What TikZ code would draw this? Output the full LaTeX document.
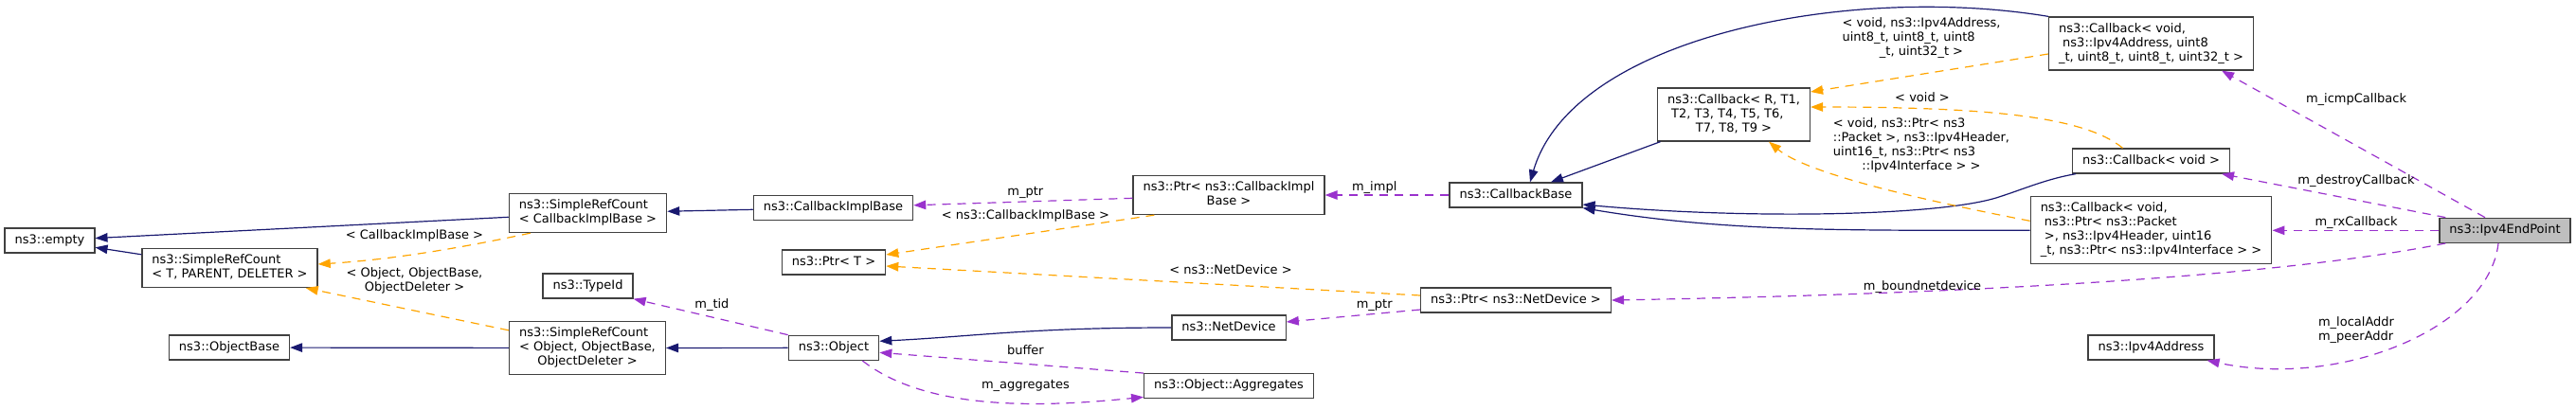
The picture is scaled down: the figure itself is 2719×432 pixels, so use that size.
\documentclass[tikz,border=0pt]{standalone}
\usepackage{fontspec}
\setmainfont{DejaVu Sans}
\usepackage{tikz}
\usetikzlibrary{arrows.meta}
\definecolor{inhblue}{RGB}{25,25,112}
\definecolor{usepurple}{RGB}{154,50,205}
\definecolor{tmplorange}{RGB}{255,165,0}
\definecolor{boxgray}{RGB}{64,64,64}
\definecolor{selgray}{RGB}{191,191,191}
\newcommand{\doxfont}{\fontsize{13}{15}\selectfont}
\newcommand{\doxrows}[1]{\begin{tabular}{@{}l@{}}#1\end{tabular}}
\newcommand{\doxcrows}[1]{\begin{tabular}{@{}c@{}}#1\end{tabular}}
\newcommand{\ctrline}[1]{\multicolumn{1}{@{}c@{}}{#1}}

\begin{document}
\begin{tikzpicture}[
  x=1pt, y=-1pt,
  cls/.style={rectangle, draw=boxgray, line width=1.3pt, fill=white,
              inner xsep=10.5pt, inner ysep=5.5pt, font=\doxfont},
  lbl/.style={inner sep=0pt, font=\doxfont},
  inh/.style={draw=inhblue, line width=1.2pt, -{Triangle[length=13pt, width=9.5pt]}},
  usage/.style={draw=usepurple, line width=1.2pt, dash pattern=on 9pt off 7pt,
                -{Triangle[length=13pt, width=9.5pt]}},
  tmpl/.style={draw=tmplorange, line width=1.2pt, dash pattern=on 9pt off 7pt,
               -{Triangle[length=13pt, width=9.5pt]}},
]
\useasboundingbox (0,0) rectangle (2719,432);

% Base classes
\node[cls] (empty) at (52.5,254) {\doxrows{ns3::empty}};
\node[cls] (srcT) at (242.5,283) {\doxrows{ns3::SimpleRefCount\\< T, PARENT, DELETER >}};
\node[cls] (objbase) at (242,367) {\doxrows{ns3::ObjectBase}};
\node[cls] (srcCIB) at (620.5,225) {\doxrows{ns3::SimpleRefCount\\< CallbackImplBase >}};
\node[cls] (typeid) at (620.5,302) {\doxrows{ns3::TypeId}};
\node[cls] (srcObj) at (620,367.5) {\doxrows{ns3::SimpleRefCount\\< Object, ObjectBase,\\\ctrline{ObjectDeleter >}}};
\node[cls] (cibase) at (879.5,219.5) {\doxrows{ns3::CallbackImplBase}};
\node[cls] (ptrT) at (880,277) {\doxrows{ns3::Ptr< T >}};
\node[cls] (object) at (880,367.3) {\doxrows{ns3::Object}};
\node[cls] (ptrCIB) at (1297,206) {\doxrows{ns3::Ptr< ns3::CallbackImpl\\\ctrline{Base >}}};
\node[cls] (netdev) at (1297,346) {\doxrows{ns3::NetDevice}};
\node[cls] (aggr) at (1297,407.7) {\doxrows{ns3::Object::Aggregates}};
\node[cls] (cbbase) at (1600,206) {\doxrows{ns3::CallbackBase}};
\node[cls] (ptrND) at (1600,317) {\doxrows{ns3::Ptr< ns3::NetDevice >}};
\node[cls] (cbR) at (1830,121) {\doxrows{ns3::Callback< R, T1,\\\ T2, T3, T4, T5, T6,\\\ctrline{T7, T8, T9 >}}};

% Callback members
\node[cls] (cbIcmp) at (2270.5,46) {\doxrows{ns3::Callback< void,\\\ ns3::Ipv4Address, uint8\\\_t, uint8\_t, uint8\_t, uint32\_t >}};
\node[cls] (cbVoid) at (2270.5,170) {\doxrows{ns3::Callback< void >}};
\node[cls] (cbRx) at (2270.5,243.3) {\doxrows{ns3::Callback< void,\\\ ns3::Ptr< ns3::Packet\\\ >, ns3::Ipv4Header, uint16\\\_t, ns3::Ptr< ns3::Ipv4Interface > >}};
\node[cls] (ipv4addr) at (2270.5,367) {\doxrows{ns3::Ipv4Address}};
\node[cls, fill=selgray] (endpoint) at (2644,243.3) {\doxrows{ns3::Ipv4EndPoint}};

% Inheritance
\draw[inh] (srcCIB) -- (empty);
\draw[inh] (srcT) -- (empty);
\draw[inh] (srcObj) -- (objbase);
\draw[inh] (cibase) -- (srcCIB);
\draw[inh] (object) -- (srcObj);
\draw[inh] (netdev.west) .. controls +(-150,0) and +(100,-5) .. ([yshift=7pt]object.east);
\draw[inh] (cbR) -- (cbbase);
\draw[inh] (cbIcmp.north west) .. controls +(-212,-35) and +(45,-153) .. ([xshift=15pt]cbbase.north);
\draw[inh] ([xshift=4pt]cbVoid.south west) .. controls +(-30,5) and +(25,-8) .. (2110,208)
  .. controls +(-60,20) and +(177,16) .. ([yshift=-10pt]cbbase.east);
\draw[inh] (cbRx.west) .. controls +(-200,0) and +(150,25) .. (cbbase.south east);

% Template instances
\draw[tmpl] ([xshift=23pt]srcCIB.south west) .. controls +(-70,15) and +(80,-5) .. ([yshift=4pt]srcT.east);
\draw[tmpl] ([yshift=-10pt]srcObj.north west) -- ([xshift=-13pt]srcT.south east);
\draw[tmpl] ([xshift=23pt]ptrCIB.south west) -- ([yshift=8pt]ptrT.east);
\draw[tmpl] ([yshift=5pt]ptrND.west) -- ([yshift=-4pt]ptrT.east);
\draw[tmpl] ([yshift=-11pt]cbIcmp.west) -- ([yshift=24pt]cbR.east);
\draw[tmpl] ([xshift=-30pt]cbVoid.north) .. controls +(-40,-33) and +(189,0) .. ([yshift=8pt]cbR.east);
\draw[tmpl] ([yshift=10pt]cbRx.west) .. controls +(-93,-18) and +(43,36) .. ([xshift=37pt]cbR.south);

% Members
\draw[usage] (object.north west) -- (typeid.south east);
\draw[usage] (aggr.north west) -- ([yshift=-5pt]object.east);
\draw[usage] ([xshift=-18pt]object.south east) .. controls +(70,55) and +(-100,10) .. ([yshift=2pt]aggr.south west);
\draw[usage] (ptrCIB) -- (cibase);
\draw[usage] ([yshift=-10pt]ptrND.west) -- ([yshift=6pt]netdev.east);
\draw[usage] (cbbase) -- (ptrCIB);
\draw[usage] ([xshift=-21pt]endpoint.north) -- ([xshift=-34pt]cbIcmp.south east);
\draw[usage] ([xshift=7pt]endpoint.north west) -- ([xshift=-9pt]cbVoid.south east);
\draw[usage] (endpoint) -- (cbRx);
\draw[usage] ([xshift=7pt]endpoint.south west) .. controls +(-150,30) and +(450,-8) .. (ptrND.east);
\draw[usage] ([xshift=-7pt]endpoint.south) .. controls +(-10,90) and +(140,30) .. ([xshift=-8pt]ipv4addr.south east);

% Edge labels
\node[lbl] (lCIB) at (437.5,249.3) {\doxrows{< CallbackImplBase >}};
\node[lbl] (lObj) at (437.5,297) {\doxcrows{< Object, ObjectBase,\\ObjectDeleter >}};
\node[lbl] (lTid) at (751.4,322.7) {\doxrows{m\_tid}};
\node[lbl] (lPtrA) at (1082.4,203.3) {\doxrows{m\_ptr}};
\node[lbl] (lPtrCIB) at (1082.4,228.7) {\doxrows{< ns3::CallbackImplBase >}};
\node[lbl] (lBuffer) at (1082.4,371) {\doxrows{buffer}};
\node[lbl] (lAggr) at (1082.4,407.3) {\doxrows{m\_aggregates}};
\node[lbl] (lPtrND) at (1299,286.7) {\doxrows{< ns3::NetDevice >}};
\node[lbl] (lPtrB) at (1450.7,322.3) {\doxrows{m\_ptr}};
\node[lbl] (lImpl) at (1450.7,198.3) {\doxrows{m\_impl}};
\node[lbl] (lIcmpT) at (2028,40.7) {\doxrows{< void, ns3::Ipv4Address,\\uint8\_t, uint8\_t, uint8\\\ctrline{\_t, uint32\_t >}}};
\node[lbl] (lVoid) at (2029,104.3) {\doxrows{< void >}};
\node[lbl] (lRxT) at (2028,154.3) {\doxrows{< void, ns3::Ptr< ns3\\::Packet >, ns3::Ipv4Header,\\uint16\_t, ns3::Ptr< ns3\\\ctrline{::Ipv4Interface > >}}};
\node[lbl] (lBound) at (2029,303.3) {\doxrows{m\_boundnetdevice}};
\node[lbl] (lIcmp) at (2487,105.7) {\doxrows{m\_icmpCallback}};
\node[lbl] (lDestroy) at (2487,191) {\doxrows{m\_destroyCallback}};
\node[lbl] (lRx) at (2487,235) {\doxrows{m\_rxCallback}};
\node[lbl] (lAddr) at (2487,349) {\doxrows{m\_localAddr\\m\_peerAddr}};

\end{tikzpicture}
\end{document}
